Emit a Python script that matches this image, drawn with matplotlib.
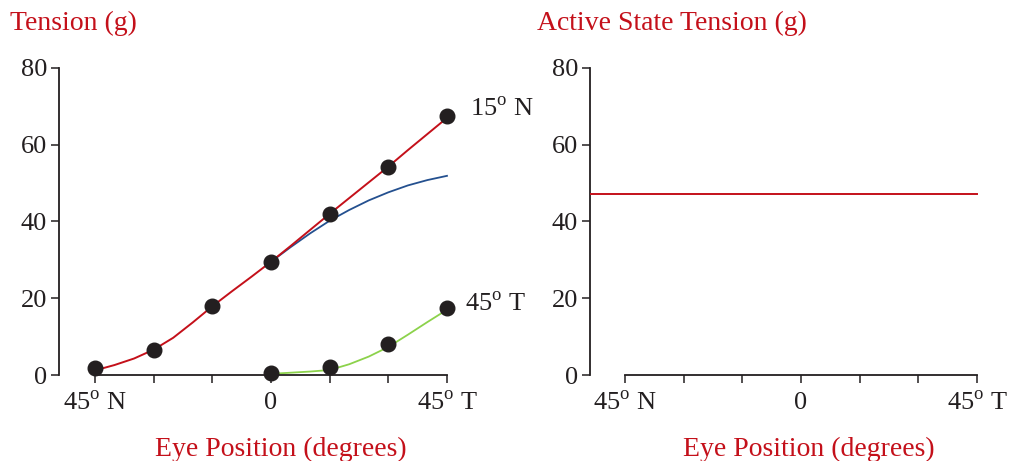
import matplotlib.pyplot as plt

plt.rcParams['font.family'] = ['Liberation Serif', 'DejaVu Serif']
plt.rcParams['mathtext.fontset'] = 'custom'
plt.rcParams['mathtext.rm'] = 'Liberation Serif'

RED = '#c4101a'
INK = '#231f20'

# measured points (eye position in degrees, tension in g)
pts_x = [-45, -30, -15, 0, 15, 30, 45]
pts_15N = [1.8, 6.4, 18.0, 29.5, 42.0, 54.3, 67.5]
pts_45T_x = [0, 15, 30, 45]
pts_45T = [0.5, 2.0, 8.0, 17.5]

# curves every 5 degrees
curve_x = [-45, -40, -35, -30, -25, -20, -15, -10, -5, 0, 5, 10, 15, 20, 25, 30, 35, 40, 45]
curve_15N = [1.2, 2.6, 4.3, 6.6, 9.7, 13.7, 17.9, 21.8, 25.6, 29.5, 33.6, 37.8, 42.0, 46.1, 50.2, 54.3, 58.6, 62.8, 67.0]
blue_x = [0, 5, 10, 15, 20, 25, 30, 35, 40, 45]
blue_y = [29.5, 33.3, 36.9, 40.2, 43.0, 45.5, 47.6, 49.4, 50.8, 51.9]
green_x = [0, 5, 10, 15, 20, 25, 30, 35, 40, 45]
green_y = [0.3, 0.6, 0.9, 1.3, 2.8, 4.8, 7.3, 10.5, 13.8, 17.0]

active_x = [-54, 45]
active_y = [47.1, 47.1]

xticks = [-45, -30, -15, 0, 15, 30, 45]
xticklabels = [r'45$^{\mathrm{o}}$ N', '', '', '0', '', '', r'45$^{\mathrm{o}}$ T']
yticks = [0, 20, 40, 60, 80]

fig = plt.figure(figsize=(10.11, 4.61), dpi=100)
W, H = 1011, 461
PX_PER_DEG = 3.911


def make_axes(left_px, right_px, xmin):
    ax = fig.add_axes([left_px / W, (H - 375) / H, (right_px - left_px) / W, (375 - 68) / H])
    ax.set_xlim(xmin, xmin + (right_px - left_px) / PX_PER_DEG)
    ax.set_ylim(0, 80)
    for s in ['top', 'right']:
        ax.spines[s].set_visible(False)
    ax.spines['left'].set_bounds(0, 80)
    ax.spines['bottom'].set_bounds(-45, 45)
    for s in ['left', 'bottom']:
        ax.spines[s].set_color(INK)
        ax.spines[s].set_linewidth(1.3)
    ax.set_xticks(xticks)
    ax.set_xticklabels(xticklabels)
    ax.set_yticks(yticks)
    ax.tick_params(axis='both', direction='out', colors=INK, labelsize=19, width=1.1)
    ax.tick_params(axis='x', length=6, pad=6)
    ax.tick_params(axis='y', length=6, pad=2.5)
    ax.set_xlabel('Eye Position (degrees)', color=RED, fontsize=20)
    # label sits a little right of the axes centre in the original
    ax.xaxis.set_label_coords(0.5 + 24 / (right_px - left_px), -0.20)
    return ax


ax1 = make_axes(59, 455, -54.2)
ax1.plot(blue_x, blue_y, color='#24508f', lw=1.3, zorder=2)
ax1.plot(green_x, green_y, color='#8cd24b', lw=1.3, zorder=2)
ax1.plot(curve_x, curve_15N, color=RED, lw=1.4, zorder=3)
ax1.plot(pts_x, pts_15N, 'o', color=INK, ms=10.5, zorder=4, clip_on=False)
ax1.plot(pts_45T_x, pts_45T, 'o', color=INK, ms=10.5, zorder=4, clip_on=False)
ax1.text(51, 69.2, r'15$^{\mathrm{o}}$ N', fontsize=19, color=INK, ha='left', va='center')
ax1.text(49.5, 18.3, r'45$^{\mathrm{o}}$ T', fontsize=19, color=INK, ha='left', va='center')
fig.text(10 / W, 1 - 23 / H, 'Tension (g)', color=RED, fontsize=20, ha='left', va='center')

ax2 = make_axes(590, 980, -53.95)
ax2.plot(active_x, active_y, color=RED, lw=1.4, zorder=3)
fig.text(537 / W, 1 - 23 / H, 'Active State Tension (g)', color=RED, fontsize=20, ha='left', va='center')

fig.savefig('out.png', dpi=100)
